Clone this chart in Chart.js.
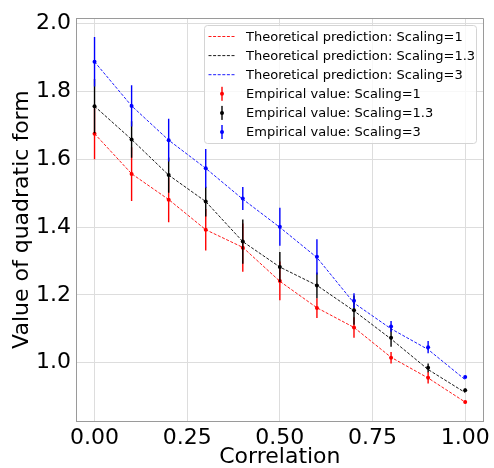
<!DOCTYPE html>
<html>
<head>
<meta charset="utf-8">
<script src="https://cdn.jsdelivr.net/npm/chart.js@4/dist/chart.umd.min.js"></script>
<style>
html,body{margin:0;padding:0;background:#fff;}
#wrap{width:494px;height:468px;}
</style>
</head>
<body>
<div id="wrap"><canvas id="c" width="494" height="468"></canvas></div>
<script>
// ---- data ----
const correlation = [0.0, 0.1, 0.2, 0.3, 0.4, 0.5, 0.6, 0.7, 0.8, 0.9, 1.0];

const theoryScaling1   = [1.675, 1.557, 1.481, 1.392, 1.340, 1.240, 1.162, 1.104, 1.016, 0.955, 0.884];
const theoryScaling1_3 = [1.756, 1.658, 1.553, 1.475, 1.357, 1.282, 1.228, 1.153, 1.070, 0.980, 0.912];
const theoryScaling3   = [1.887, 1.757, 1.656, 1.573, 1.482, 1.399, 1.310, 1.176, 1.100, 1.039, 0.950];

const empiricalScaling1   = [1.675, 1.556, 1.480, 1.392, 1.339, 1.241, 1.161, 1.104, 1.015, 0.956, 0.884];
const empiricalScaling1_3 = [1.756, 1.658, 1.553, 1.475, 1.357, 1.282, 1.228, 1.155, 1.074, 0.985, 0.919];
const empiricalScaling3   = [1.887, 1.757, 1.656, 1.573, 1.484, 1.401, 1.312, 1.183, 1.107, 1.046, 0.958];

const errorScaling1   = [0.075, 0.079, 0.066, 0.061, 0.071, 0.057, 0.029, 0.030, 0.017, 0.017, 0.004];
const errorScaling1_3 = [0.080, 0.054, 0.052, 0.044, 0.065, 0.044, 0.038, 0.043, 0.027, 0.013, 0.005];
const errorScaling3   = [0.073, 0.061, 0.063, 0.057, 0.034, 0.056, 0.052, 0.022, 0.016, 0.018, 0.004];

const scalingNames = ['1', '1.3', '3'];
const seriesColors = ['#ff0000', '#000000', '#0000ff'];

const xTickValues = [0.0, 0.25, 0.5, 0.75, 1.0];
const xTickLabels = ['0.00', '0.25', '0.50', '0.75', '1.00'];
const yTickValues = [1.0, 1.2, 1.4, 1.6, 1.8, 2.0];
const yTickLabels = ['1.0', '1.2', '1.4', '1.6', '1.8', '2.0'];

// ---- build datasets ----
const FONT = '"DejaVu Sans", "Liberation Sans", sans-serif';
const theory = [theoryScaling1, theoryScaling1_3, theoryScaling3];
const empirical = [empiricalScaling1, empiricalScaling1_3, empiricalScaling3];
const errors = [errorScaling1, errorScaling1_3, errorScaling3];

const datasets = [];
theory.forEach((vals, s) => {
  datasets.push({
    type: 'line',
    label: 'Theoretical prediction: Scaling=' + scalingNames[s],
    legendKind: 'line', legendIndex: s,
    data: correlation.map((x, i) => ({x: x, y: vals[i]})),
    borderColor: seriesColors[s],
    borderWidth: 0.9,
    borderDash: [3, 1.6],
    pointRadius: 0,
    fill: false,
    tension: 0,
    order: 40 - s
  });
});
empirical.forEach((vals, s) => {
  datasets.push({
    type: 'bar',
    label: 'err' + s,
    data: correlation.map((x, i) => ({x: x, y: [vals[i] - errors[s][i], vals[i] + errors[s][i]]})),
    backgroundColor: seriesColors[s],
    borderWidth: 0,
    borderSkipped: false,
    inflateAmount: 0,
    grouped: false,
    barThickness: 1.4,
    maxBarThickness: 1.4,
    order: 20 - 2 * s
  });
  datasets.push({
    type: 'line',
    label: 'Empirical value: Scaling=' + scalingNames[s],
    legendKind: 'errbar', legendIndex: 3 + s,
    data: correlation.map((x, i) => ({x: x, y: vals[i]})),
    showLine: false,
    pointRadius: 2,
    pointStyle: 'circle',
    pointBackgroundColor: seriesColors[s],
    pointBorderColor: seriesColors[s],
    pointBorderWidth: 0,
    order: 19 - 2 * s
  });
});

// ---- plugins ----
const framePlugin = {
  id: 'frame',
  beforeDatasetsDraw(chart) {
    const ctx = chart.ctx, a = chart.chartArea;
    ctx.save();
    ctx.strokeStyle = '#9a9a9a';
    ctx.lineWidth = 1;
    ctx.beginPath();
    ctx.moveTo(Math.round(a.left) + 0.5, Math.round(a.top) + 0.5);
    ctx.lineTo(Math.round(a.right) - 0.5, Math.round(a.top) + 0.5);
    ctx.lineTo(Math.round(a.right) - 0.5, Math.round(a.bottom) + 0.5);
    ctx.stroke();
    ctx.restore();
  }
};

const legendPlugin = {
  id: 'boxLegend',
  afterDraw(chart) {
    const ctx = chart.ctx, a = chart.chartArea;
    const items = chart.data.datasets.filter(d => d.legendKind).sort((p, q) => p.legendIndex - q.legendIndex);
    const x0 = Math.round(a.right) - 279.5, y0 = Math.round(a.top) + 7.5, w = 272, h = 118;
    ctx.save();
    ctx.beginPath();
    ctx.roundRect(x0, y0, w, h, 3);
    ctx.fillStyle = 'rgba(255,255,255,0.8)';
    ctx.fill();
    ctx.strokeStyle = '#d4d4d4';
    ctx.lineWidth = 1;
    ctx.stroke();
    ctx.font = '13px ' + FONT;
    ctx.textBaseline = 'middle';
    ctx.textAlign = 'left';
    items.forEach((d, i) => {
      const cy = y0 + 11 + i * 19.1;
      if (d.legendKind === 'line') {
        ctx.save();
        ctx.strokeStyle = d.borderColor;
        ctx.lineWidth = d.borderWidth;
        ctx.setLineDash(d.borderDash);
        ctx.beginPath();
        ctx.moveTo(x0 + 4, cy);
        ctx.lineTo(x0 + 30, cy);
        ctx.stroke();
        ctx.restore();
      } else {
        const c = d.pointBackgroundColor;
        ctx.fillStyle = c;
        ctx.fillRect(x0 + 16.8, cy - 7, 1.4, 14);
        ctx.beginPath();
        ctx.arc(x0 + 17.5, cy, d.pointRadius, 0, Math.PI * 2);
        ctx.fill();
      }
      ctx.fillStyle = '#000';
      ctx.fillText(d.label, x0 + 41.5, cy + 0.8);
    });
    ctx.restore();
  }
};

// ---- chart ----
new Chart(document.getElementById('c'), {
  type: 'line',
  data: { datasets: datasets },
  options: {
    responsive: false,
    animation: false,
    devicePixelRatio: 1,
    events: [],
    layout: { padding: { left: 0, top: 13, right: 7, bottom: 0 } },
    plugins: {
      legend: { display: false },
      tooltip: { enabled: false }
    },
    scales: {
      x: {
        type: 'linear',
        min: -0.05,
        max: 1.05,
        offset: false,
        afterBuildTicks: ax => { ax.ticks = xTickValues.map(v => ({value: v})); },
        afterFit: ax => { ax.height = 47; },
        ticks: {
          callback: (v, i) => xTickLabels[i],
          font: { family: FONT, size: 22 },
          color: '#000',
          padding: 4,
          maxRotation: 0,
          autoSkip: false
        },
        grid: { color: '#dddddd', lineWidth: 1, drawTicks: false, offset: false },
        border: { color: '#9a9a9a', width: 1 },
        title: {
          display: true,
          text: 'Correlation',
          font: { family: FONT, size: 22, lineHeight: 1 },
          color: '#000',
          padding: { top: 0, bottom: 0 }
        }
      },
      y: {
        type: 'linear',
        min: 0.8283,
        max: 2.0154,
        afterBuildTicks: ax => { ax.ticks = yTickValues.map(v => ({value: v})); },
        afterFit: ax => { ax.width = 76; },
        ticks: {
          callback: (v, i) => yTickLabels[i],
          font: { family: FONT, size: 22 },
          color: '#000',
          padding: 5
        },
        grid: { color: '#dddddd', lineWidth: 1, drawTicks: false },
        border: { color: '#9a9a9a', width: 1 },
        title: {
          display: true,
          text: 'Value of quadratic form',
          font: { family: FONT, size: 22, lineHeight: 1 },
          color: '#000',
          padding: { top: 11, bottom: 0 }
        }
      }
    }
  },
  plugins: [framePlugin, legendPlugin]
});
</script>
</body>
</html>
